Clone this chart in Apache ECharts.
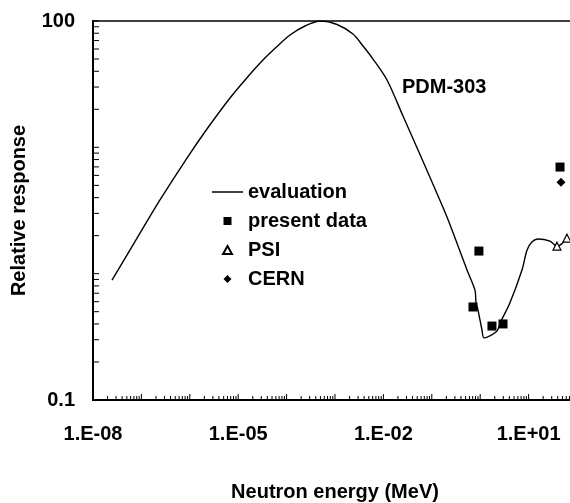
<!DOCTYPE html>
<html>
<head>
<meta charset="utf-8">
<script src="https://cdn.jsdelivr.net/npm/echarts@6/dist/echarts.min.js"></script>
<style>html,body{margin:0;padding:0;background:#fff;}#c{width:570px;height:503px;}</style>
</head>
<body>
<div id="c"></div>
<script>
// ---- data ----
const evalEnergy = [2.47e-8, 7.73e-8, 2.42e-7, 8.75e-7, 2.38e-6, 6.77e-6, 1.52e-5, 3.25e-5, 6.33e-5, 1.175e-4, 2.4e-4, 4.9e-4, 1.1e-3, 2.35e-3, 3.79e-3, 6.1e-3, 0.01187, 0.0254, 0.0519, 0.101, 0.206, 0.534, 0.78, 0.82, 0.90, 1.09, 1.2, 2.2, 2.6, 4.1, 7.3, 9.3, 11.7, 15.6, 27.7, 35, 40, 62];
const evalResp   = [0.89, 1.85, 3.83, 8.23, 14.35, 24.6, 35.6, 49.1, 62.8, 77.5, 91.3, 100, 93.8, 78.9, 63.4, 50.0, 34.1, 17.7, 9.52, 5.31, 2.81, 1.07, 0.74, 0.585, 0.515, 0.357, 0.31, 0.35, 0.41, 0.585, 1.07, 1.54, 1.78, 1.88, 1.81, 1.68, 1.66, 1.9];

const presentEnergy = [0.71, 0.94, 1.75, 2.96, 44.6];
const presentResp   = [0.545, 1.51, 0.385, 0.40, 6.98];

const psiEnergy = [38.6, 62];
const psiResp   = [1.65, 1.91];

const cernEnergy = [46.7];
const cernResp   = [5.3];

const seriesNames = ['evaluation', 'present data', 'PSI', 'CERN'];
const xTickValues = [1e-8, 1e-5, 1e-2, 10];
const xTickLabels = ['1.E-08', '1.E-05', '1.E-02', '1.E+01'];
const yTickValues = [0.1, 100];
const yTickLabels = ['0.1', '100'];
const xDecades = [-8, -7, -6, -5, -4, -3, -2, -1, 0, 1];
const yDecades = [-1, 0, 1];
const detectorLabel = 'PDM-303';
const xTitle = 'Neutron energy (MeV)';
const yTitle = 'Relative response';

// ---- build ----
const FONT = 'Liberation Sans, Arial, Helvetica, sans-serif';
const zip = (a, b) => a.map((v, i) => [v, b[i]]);
const near = (a, b) => Math.abs(Math.log10(a) - Math.log10(b)) < 1e-6;
function labelFor(values, labels, v) {
  for (let i = 0; i < values.length; i++) if (near(values[i], v)) return labels[i];
  return '';
}
const xTicks = [];
xDecades.forEach(d => { for (let m = 1; m <= 9; m++) xTicks.push([m * Math.pow(10, d), 0.1, m === 1 ? 1 : 0]); });
xTicks.push([100, 0.1, 1]);
const yTicks = [];
yDecades.forEach(d => { for (let m = 1; m <= 9; m++) yTicks.push([1e-8, m * Math.pow(10, d), 1]); });
yTicks.push([1e-8, 100, 1]);

const chart = echarts.init(document.getElementById('c'));
chart.setOption({
  backgroundColor: '#fff',
  animation: false,
  grid: { left: 93, top: 21, right: -7, bottom: 103, show: true, borderColor: '#000', borderWidth: 1.5,
          containLabel: false, outerBoundsMode: 'none' },
  xAxis: {
    type: 'log', logBase: 10, min: 1e-8, max: 100, splitNumber: 10,
    name: xTitle, nameLocation: 'middle', nameGap: 82,
    nameTextStyle: { fontFamily: FONT, fontWeight: 'bold', fontSize: 20, color: '#000' },
    axisLine: { lineStyle: { color: '#000', width: 2 } },
    axisTick: { show: false }, splitLine: { show: false },
    axisLabel: { margin: 24, fontFamily: FONT, fontWeight: 'bold', fontSize: 20, color: '#000',
      customValues: xTickValues, showMinLabel: true, showMaxLabel: true,
      formatter: v => labelFor(xTickValues, xTickLabels, v) }
  },
  yAxis: {
    type: 'log', logBase: 10, min: 0.1, max: 100, splitNumber: 3,
    name: yTitle, nameLocation: 'middle', nameGap: 64, nameRotate: 90,
    nameTextStyle: { fontFamily: FONT, fontWeight: 'bold', fontSize: 20, color: '#000' },
    axisLine: { lineStyle: { color: '#000', width: 2 } },
    axisTick: { show: false }, splitLine: { show: false },
    axisLabel: { margin: 18, fontFamily: FONT, fontWeight: 'bold', fontSize: 20, color: '#000',
      customValues: yTickValues,
      formatter: v => labelFor(yTickValues, yTickLabels, v) }
  },
  legend: {
    orient: 'vertical', left: 212, top: 182, padding: 0, itemGap: 9,
    itemWidth: 31, itemHeight: 8,
    textStyle: { fontFamily: FONT, fontWeight: 'bold', fontSize: 20, color: '#000' },
    data: [
      { name: seriesNames[0], icon: 'path://M0 0H62V3H0Z' },
      { name: seriesNames[1], icon: 'path://M0 0H10V10H0Z' },
      { name: seriesNames[2], icon: 'path://M5 0L10 9L0 9Z' },
      { name: seriesNames[3], icon: 'path://M5 0L10 5L5 10L0 5Z' }
    ]
  },
  graphic: [{
    type: 'text', left: 402, top: 77,
    style: { text: detectorLabel, font: 'bold 20px ' + FONT, fill: '#000' }
  }],
  series: [
    { type: 'custom', silent: true, data: xTicks, clip: false,
      renderItem: (params, api) => {
        const p = api.coord([api.value(0), api.value(1)]);
        const len = api.value(2) ? 6 : 4;
        return { type: 'line', shape: { x1: p[0], y1: p[1], x2: p[0], y2: p[1] - len }, style: { stroke: '#000', lineWidth: 1 } };
      } },
    { type: 'custom', silent: true, data: yTicks, clip: false,
      renderItem: (params, api) => {
        const p = api.coord([api.value(0), api.value(1)]);
        return { type: 'line', shape: { x1: p[0], y1: p[1], x2: p[0] + 6, y2: p[1] }, style: { stroke: '#000', lineWidth: 1 } };
      } },
    { name: seriesNames[0], type: 'line', data: zip(evalEnergy, evalResp), smooth: 0.3,
      showSymbol: false, symbol: 'none', lineStyle: { color: '#000', width: 1.4 }, itemStyle: { color: '#000' }, z: 3 },
    { name: seriesNames[1], type: 'scatter', data: zip(presentEnergy, presentResp), symbol: 'rect', symbolSize: 9,
      itemStyle: { color: '#000', opacity: 1 }, z: 4 },
    { name: seriesNames[2], type: 'scatter', data: zip(psiEnergy, psiResp), symbol: 'triangle', symbolSize: 8,
      itemStyle: { color: '#fff', borderColor: '#000', borderWidth: 1.2, opacity: 1 }, z: 4 },
    { name: seriesNames[3], type: 'scatter', data: zip(cernEnergy, cernResp), symbol: 'diamond', symbolSize: 9,
      itemStyle: { color: '#000', opacity: 1 }, z: 4 }
  ]
});
</script>
</body>
</html>
